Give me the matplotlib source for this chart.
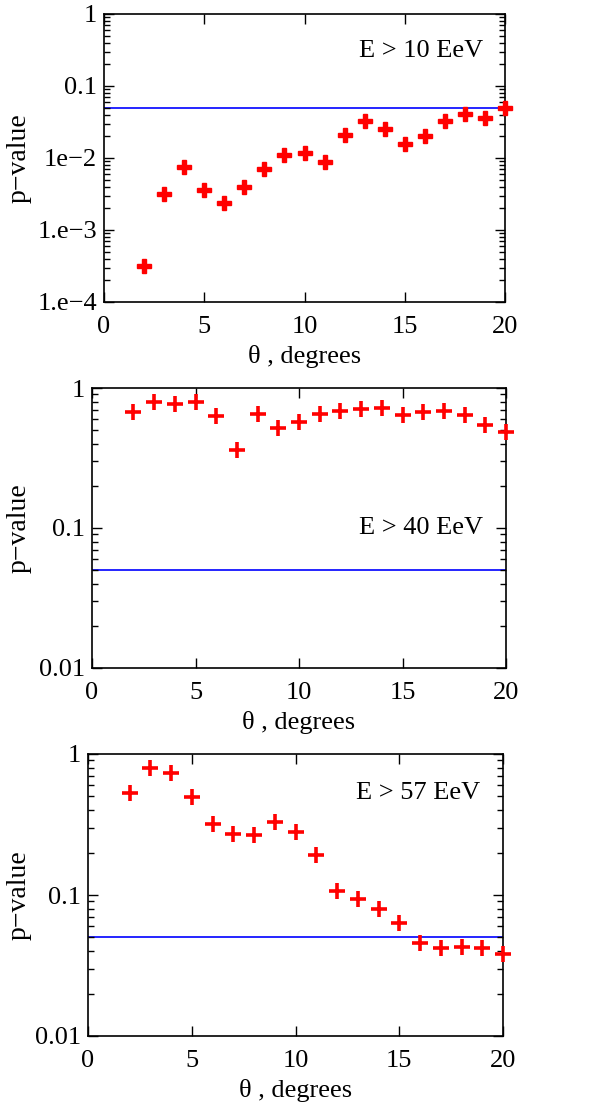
import matplotlib
matplotlib.use("Agg")
import matplotlib.pyplot as plt
from matplotlib.ticker import FixedLocator, FixedFormatter, LogLocator, NullFormatter

plt.rcParams['font.family'] = ['Liberation Serif', 'DejaVu Serif']

theta = [2, 3, 4, 5, 6, 7, 8, 9, 10, 11, 12, 13, 14, 15, 16, 17, 18, 19, 20]

# p-values, E > 10 EeV
p10 = [3.2e-4, 3.2e-3, 7.6e-3, 3.6e-3, 2.35e-3, 4.0e-3, 7.0e-3, 1.09e-2, 1.19e-2, 8.9e-3,
       2.07e-2, 3.3e-2, 2.55e-2, 1.56e-2, 2.04e-2, 3.3e-2, 4.1e-2, 3.6e-2, 4.95e-2]
# E > 40 EeV
p40 = [0.67, 0.79, 0.77, 0.79, 0.634, 0.358, 0.65, 0.52, 0.57, 0.655,
       0.68, 0.71, 0.715, 0.64, 0.67, 0.68, 0.64, 0.54, 0.485]
# E > 57 EeV
p57 = [0.526, 0.80, 0.73, 0.495, 0.317, 0.27, 0.267, 0.327, 0.278, 0.192,
       0.1076, 0.093, 0.079, 0.063, 0.046, 0.0424, 0.043, 0.0424, 0.038]

threshold = 0.05
labels = ["E > 10 EeV", "E > 40 EeV", "E > 57 EeV"]

fig = plt.figure(figsize=(5.92, 11.05), dpi=100)

# axes positions in pixels: left, right, top, bottom
W, H = 592, 1105
boxes = [(104, 505, 14, 302), (92, 506, 388, 668), (88, 503, 754, 1036)]
ylims = [(1e-4, 1), (1e-2, 1), (1e-2, 1)]
yticks = [[1e-4, 1e-3, 1e-2, 0.1, 1], [0.01, 0.1, 1], [0.01, 0.1, 1]]
yticklabels = [["1.e\u22124", "1.e\u22123", "1e\u22122", "0.1", "1"],
               ["0.01", "0.1", "1"], ["0.01", "0.1", "1"]]
text_y = [0.87, 0.5, 0.86]

for i, p in enumerate([p10, p40, p57]):
    l, r, t, b = boxes[i]
    ax = fig.add_axes([l / W, (H - b) / H, (r - l) / W, (b - t) / H])
    ax.axhline(threshold, color="blue", lw=1.2, zorder=1)
    if i == 0:
        ax.plot(theta, p, linestyle="none", marker="P", ms=10, color="red",
                mec="red", clip_on=False, zorder=3)
    else:
        ax.plot(theta, p, linestyle="none", marker="+", ms=11, mew=2.6, color="red",
                clip_on=False, zorder=3)
    ax.set_yscale("log")
    ax.set_xlim(0, 20)
    ax.set_ylim(*ylims[i])
    ax.xaxis.set_major_locator(FixedLocator([0, 5, 10, 15, 20]))
    ax.yaxis.set_major_locator(FixedLocator(yticks[i]))
    ax.yaxis.set_major_formatter(FixedFormatter(yticklabels[i]))
    ax.yaxis.set_minor_locator(LogLocator(base=10, subs=range(2, 10)))
    ax.yaxis.set_minor_formatter(NullFormatter())
    ax.tick_params(which="both", direction="in", top=True, right=True,
                   labelsize=19, width=1)
    ax.tick_params(which="major", length=7)
    ax.tick_params(which="minor", length=4)
    ax.tick_params(axis="x", pad=10)
    ax.tick_params(axis="y", pad=5)
    for s in ax.spines.values():
        s.set_linewidth(1.2)
    ax.set_xlabel("\u03b8 , degrees", fontsize=19, labelpad=5)
    fig.text(19 / W, 1 - ((t + b) / 2) / H, "p\u2212value", rotation=90,
             ha="center", va="center", fontsize=20)
    ax.text(0.945, text_y[i], labels[i], transform=ax.transAxes, ha="right",
            va="center", fontsize=19)

fig.savefig("out.png", dpi=100)
